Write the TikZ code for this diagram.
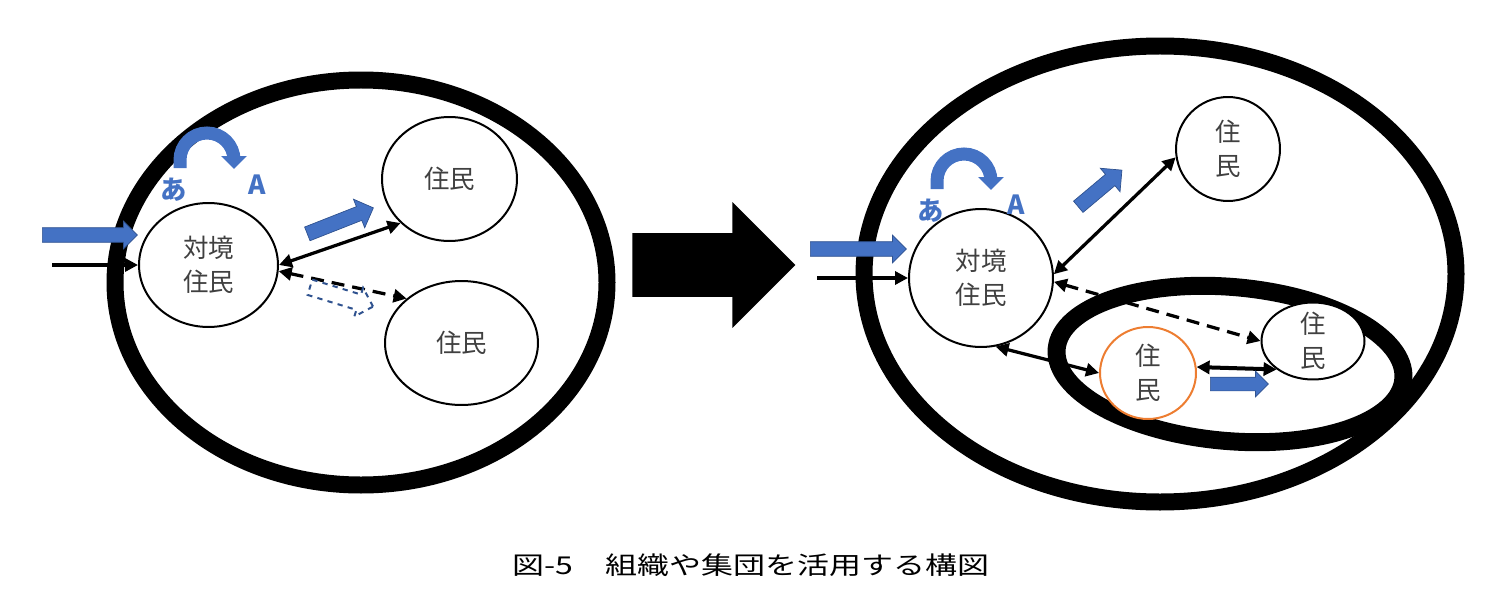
\documentclass[tikz,border=0pt]{standalone}
\usepackage{fontspec}
\setmainfont{Noto Sans CJK JP}
\usetikzlibrary{shapes.geometric,shapes.arrows,arrows.meta}
\definecolor{blueA}{HTML}{4472C4}
\definecolor{blueE}{HTML}{2F528F}
\definecolor{orangeC}{HTML}{ED7D31}
\definecolor{txtC}{HTML}{404040}
\tikzset{
  res/.style={ellipse, draw, fill=white, line width=0.04cm, inner sep=0pt, text=txtC, align=center,
              font=\fontsize{14.5}{19.5}\selectfont},
  con/.style={line width=0.065cm, {Triangle[length=0.26cm,width=0.26cm]}-{Triangle[length=0.26cm,width=0.26cm]}},
  con1/.style={line width=0.065cm, -{Triangle[length=0.26cm,width=0.26cm]}},
  barrow/.style={single arrow, anchor=tail, inner xsep=0pt, text height=0pt, text depth=0pt,
                 single arrow head indent=0pt, minimum width=0pt},
  bluearr/.style={barrow, fill=blueA, draw=blueE, line width=0.4pt, inner ysep=0.14cm, single arrow head extend=0.13cm},
  group/.style={line width=0.34cm},
  lbl/.style={text=blueA, font=\bfseries\fontsize{15}{15}\selectfont}
}
\begin{document}
\begin{tikzpicture}[x=0.02cm, y=-0.02cm]
    \useasboundingbox (0,0) rectangle (1491,615);
    % Groups
    \foreach \cx/\cy/\rx/\ry in {361/282.5/246/202.5, 1160/274/296/228}
        \draw[group] (\cx,\cy) ellipse [x radius=\rx, y radius=\ry];
    \draw[group, line width=0.36cm, rotate around={-5:(1230,364)}] (1230,364) ellipse [x radius=174, y radius=77];

    % Residents (before)
    \node[res, minimum width=2.78cm, minimum height=2.48cm] (tgtL) at (208.5,265) {対境\\住民};
    \node[res, minimum width=2.70cm, minimum height=2.48cm] (topL) at (449.5,179) {住民};
    \node[res, minimum width=3.06cm, minimum height=2.48cm] (botL) at (461.5,343) {住民};

    % Residents (after)
    \node[res, minimum width=2.88cm, minimum height=2.76cm] (tgtR) at (981,278) {対境\\住民};
    \node[res, minimum size=2.08cm] (topR) at (1228,149) {住\\民};
    \node[res, draw=orangeC, minimum width=1.92cm, minimum height=1.84cm] (orgR) at (1148,373) {住\\民};
    \node[res, inner sep=-0.1cm, minimum width=2.06cm, minimum height=1.54cm] (smlR) at (1313,341) {住\\民};

    % Links
    \coordinate (inL) at (52,265);
    \coordinate (inR) at (817,278);
    \draw[con1] (inL) -- (tgtL.west);
    \draw[con1] (inR) -- (tgtR.west);
    \draw[con] (tgtL.east) -- (topL.222);
    \draw[con, dash pattern=on 0.26cm off 0.16cm] (tgtL.355) -- (botL.141);
    \draw[con] (tgtR.3) -- (topR.189);
    \draw[con, dash pattern=on 0.26cm off 0.16cm] (tgtR.357) -- (smlR.west);
    \draw[con] (tgtR.282) -- (orgR.west);
    \draw[con, line width=0.08cm] (orgR.7) -- (smlR.218);

    % Blue arrows
    \node[bluearr, minimum height=1.9cm] (bInL) at (42,235) {};
    \node[bluearr, minimum height=1.92cm] (bInR) at (810,249) {};
    \node[bluearr, minimum height=1.42cm, rotate=21.5, single arrow head extend=0.16cm] (bMvL) at (307,234) {};
    \node[barrow, draw=blueE, dashed, fill=white, line width=0.04cm, inner ysep=0.14cm,
          single arrow head extend=0.14cm, minimum height=1.32cm, rotate=-17] (bTryL) at (309,287) {};
    \node[bluearr, minimum height=1.14cm, rotate=40, single arrow head extend=0.16cm] (bMvR) at (1078,207) {};
    \node[bluearr, minimum height=1.16cm, inner ysep=0.13cm, single arrow head extend=0.12cm] (bMvG) at (1210,384) {};

    % Big arrow
    \node[barrow, fill=black, minimum height=3.26cm, inner ysep=0.63cm, single arrow head extend=0.62cm] (big) at (632,265) {};

    % あ -> A
    \foreach \dx/\dy in {0/0, 757/21}
        \draw[line width=0.26cm, blueA, -{Triangle[length=0.26cm, width=0.5cm]}]
            (180+\dx,168+\dy) -- (180+\dx,160+\dy) arc [start angle=180, end angle=360, radius=27] -- ++(0,9);
    \node[lbl] (aL) at (174,190) {あ};
    \node[lbl] (AL) at (257,185) {A};
    \node[lbl] (aR) at (931,211) {あ};
    \node[lbl] (AR) at (1016,205) {A};

    % Caption
    \node[font=\fontsize{14}{14}\selectfont] (cap) at (751,565) {\scalebox{1.3}[1]{図-5　組織や集団を活用する構図}};
\end{tikzpicture}
\end{document}
